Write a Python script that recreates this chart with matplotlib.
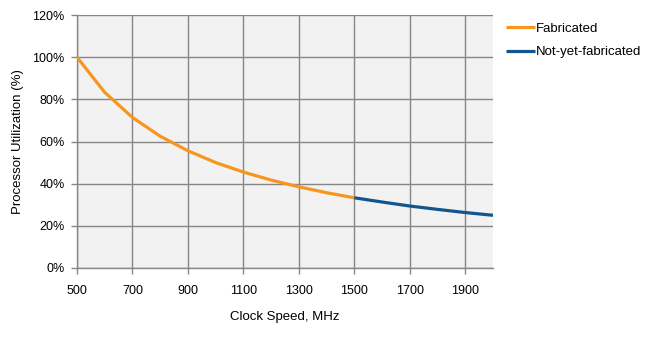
import matplotlib
matplotlib.use('Agg')
import matplotlib.pyplot as plt
from matplotlib.ticker import FuncFormatter

plt.rcParams['font.family'] = ['Liberation Sans', 'DejaVu Sans']

# clock speed (MHz) vs. processor utilization (%)
fab_mhz = [500, 600, 700, 800, 900, 1000, 1100, 1200, 1300, 1400, 1500]
fab_util = [100.0, 83.3, 71.4, 62.5, 55.6, 50.0, 45.5, 41.7, 38.5, 35.7, 33.3]
nyf_mhz = [1500, 1600, 1700, 1800, 1900, 2000]
nyf_util = [33.3, 31.3, 29.4, 27.8, 26.3, 25.0]

x_ticks = [500, 700, 900, 1100, 1300, 1500, 1700, 1900]
y_ticks = [0, 20, 40, 60, 80, 100, 120]

ORANGE = '#F7961E'
BLUE = '#12558F'
GRID = '#868686'

fig = plt.figure(figsize=(6.55, 3.39), dpi=100)
ax = fig.add_axes([77 / 655, 1 - 268 / 339, (493 - 77) / 655, (268 - 15) / 339])
ax.set_facecolor('#F2F2F2')

ax.plot(fab_mhz, fab_util, color=ORANGE, linewidth=2.3, solid_capstyle='butt',
        label='Fabricated', zorder=3)
ax.plot(nyf_mhz, nyf_util, color=BLUE, linewidth=2.3, solid_capstyle='butt',
        label='Not-yet-fabricated', zorder=3)

ax.set_xlim(500, 2000)
ax.set_ylim(0, 120)
ax.set_xticks(x_ticks)
ax.set_yticks(y_ticks)
ax.yaxis.set_major_formatter(FuncFormatter(lambda v, p: f'{v:.0f}%'))
ax.grid(True, color=GRID, linewidth=1.0)
ax.set_axisbelow(True)

for s in ('top', 'right'):
    ax.spines[s].set_visible(False)
for s in ('left', 'bottom'):
    ax.spines[s].set_color(GRID)
    ax.spines[s].set_linewidth(1.0)
ax.tick_params(colors=GRID, labelcolor='black', labelsize=9, length=4, width=1.0)
ax.tick_params(axis='x', pad=8)
ax.tick_params(axis='y', pad=5)

ax.set_xlabel('Clock Speed, MHz', fontsize=9.5, labelpad=10)
ax.set_ylabel('Processor Utilization (%)', fontsize=9.5, labelpad=6)

ax.legend(loc='upper left', bbox_to_anchor=(1.018, 0.99), frameon=False,
          fontsize=9.5, handlelength=2.2, handletextpad=0.1, labelspacing=0.85,
          borderaxespad=0)

fig.savefig('out.png', dpi=100, facecolor='white')
